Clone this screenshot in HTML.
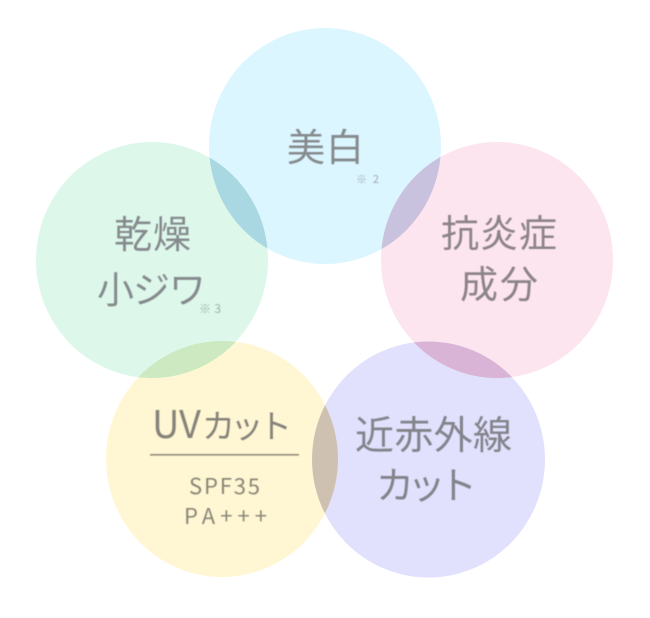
<!DOCTYPE html>
<html><head><meta charset="utf-8">
<style>
html,body{margin:0;padding:0;background:#fff;width:650px;height:618px;overflow:hidden}
svg{display:block}
text{font-family:"Noto Sans CJK JP","Liberation Sans",sans-serif;font-weight:400}
.t{filter:blur(.5px)}
</style></head>
<body>
<svg width="650" height="618" viewBox="0 0 650 618" xmlns="http://www.w3.org/2000/svg">
<rect width="650" height="618" fill="#fff"/>
<ellipse cx="325" cy="146" rx="116" ry="118" fill="#dbf6ff"/>
<ellipse cx="497" cy="260" rx="116" ry="118" fill="#fde5f0"/>
<ellipse cx="428.500" cy="459.500" rx="116.500" ry="118" fill="#e1e1fd"/>
<ellipse cx="222" cy="459" rx="116" ry="118" fill="#fff7d3"/>
<ellipse cx="152" cy="260" rx="116" ry="118" fill="#ddf8eb"/>
<clipPath id="a"><ellipse cx="325" cy="146" rx="116" ry="118"/></clipPath>
<clipPath id="b"><ellipse cx="497" cy="260" rx="116" ry="118"/></clipPath>
<clipPath id="c"><ellipse cx="428.500" cy="459.500" rx="116.500" ry="118"/></clipPath>
<clipPath id="d"><ellipse cx="222" cy="459" rx="116" ry="118"/></clipPath>
<ellipse cx="152" cy="260" rx="116" ry="118" fill="#a9d7e2" clip-path="url(#a)"/>
<ellipse cx="497" cy="260" rx="116" ry="118" fill="#c9c2de" clip-path="url(#a)"/>
<ellipse cx="428.500" cy="459.500" rx="116.500" ry="118" fill="#d9b4d6" clip-path="url(#b)"/>
<ellipse cx="222" cy="459" rx="116" ry="118" fill="#cec1b2" clip-path="url(#c)"/>
<ellipse cx="152" cy="260" rx="116" ry="118" fill="#cce9c1" clip-path="url(#d)"/>
<g class="t">
<g fill="#858a8d">
<text x="287" y="161" font-size="38" textLength="77">美白</text>
<text x="356" y="183" font-size="11" fill="#a3acb2" textLength="23">※2</text>
<text x="114" y="248" font-size="38" textLength="77">乾燥</text>
<text x="97" y="303" font-size="37" textLength="109">小ジワ</text>
<text x="199" y="313" font-size="12" fill="#a3b2ac" textLength="22">※3</text>
</g>
<g fill="#8c8388">
<text x="441" y="247" font-size="38" textLength="116">抗炎症</text>
<text x="460" y="298" font-size="38" textLength="78">成分</text>
</g>
<g fill="#83838b">
<text x="355" y="449" font-size="39" textLength="157">近赤外線</text>
<text x="376" y="499" font-size="38" textLength="101">カット</text>
</g>
<g fill="#85837b">
<text x="152" y="438" font-size="38">U</text>
<text x="179" y="438" font-size="38">V</text>
<text x="202" y="438" font-size="33" textLength="90">カット</text>
<rect x="150" y="454" width="149" height="1.600" fill="#928d7c"/>
<text x="189" y="494" font-size="22" fill="#8a8678" textLength="71">SPF35</text>
<text x="184" y="524" font-size="22" fill="#8a8678" textLength="83">PA+++</text>
</g>
</g>
</svg>
</body></html>
